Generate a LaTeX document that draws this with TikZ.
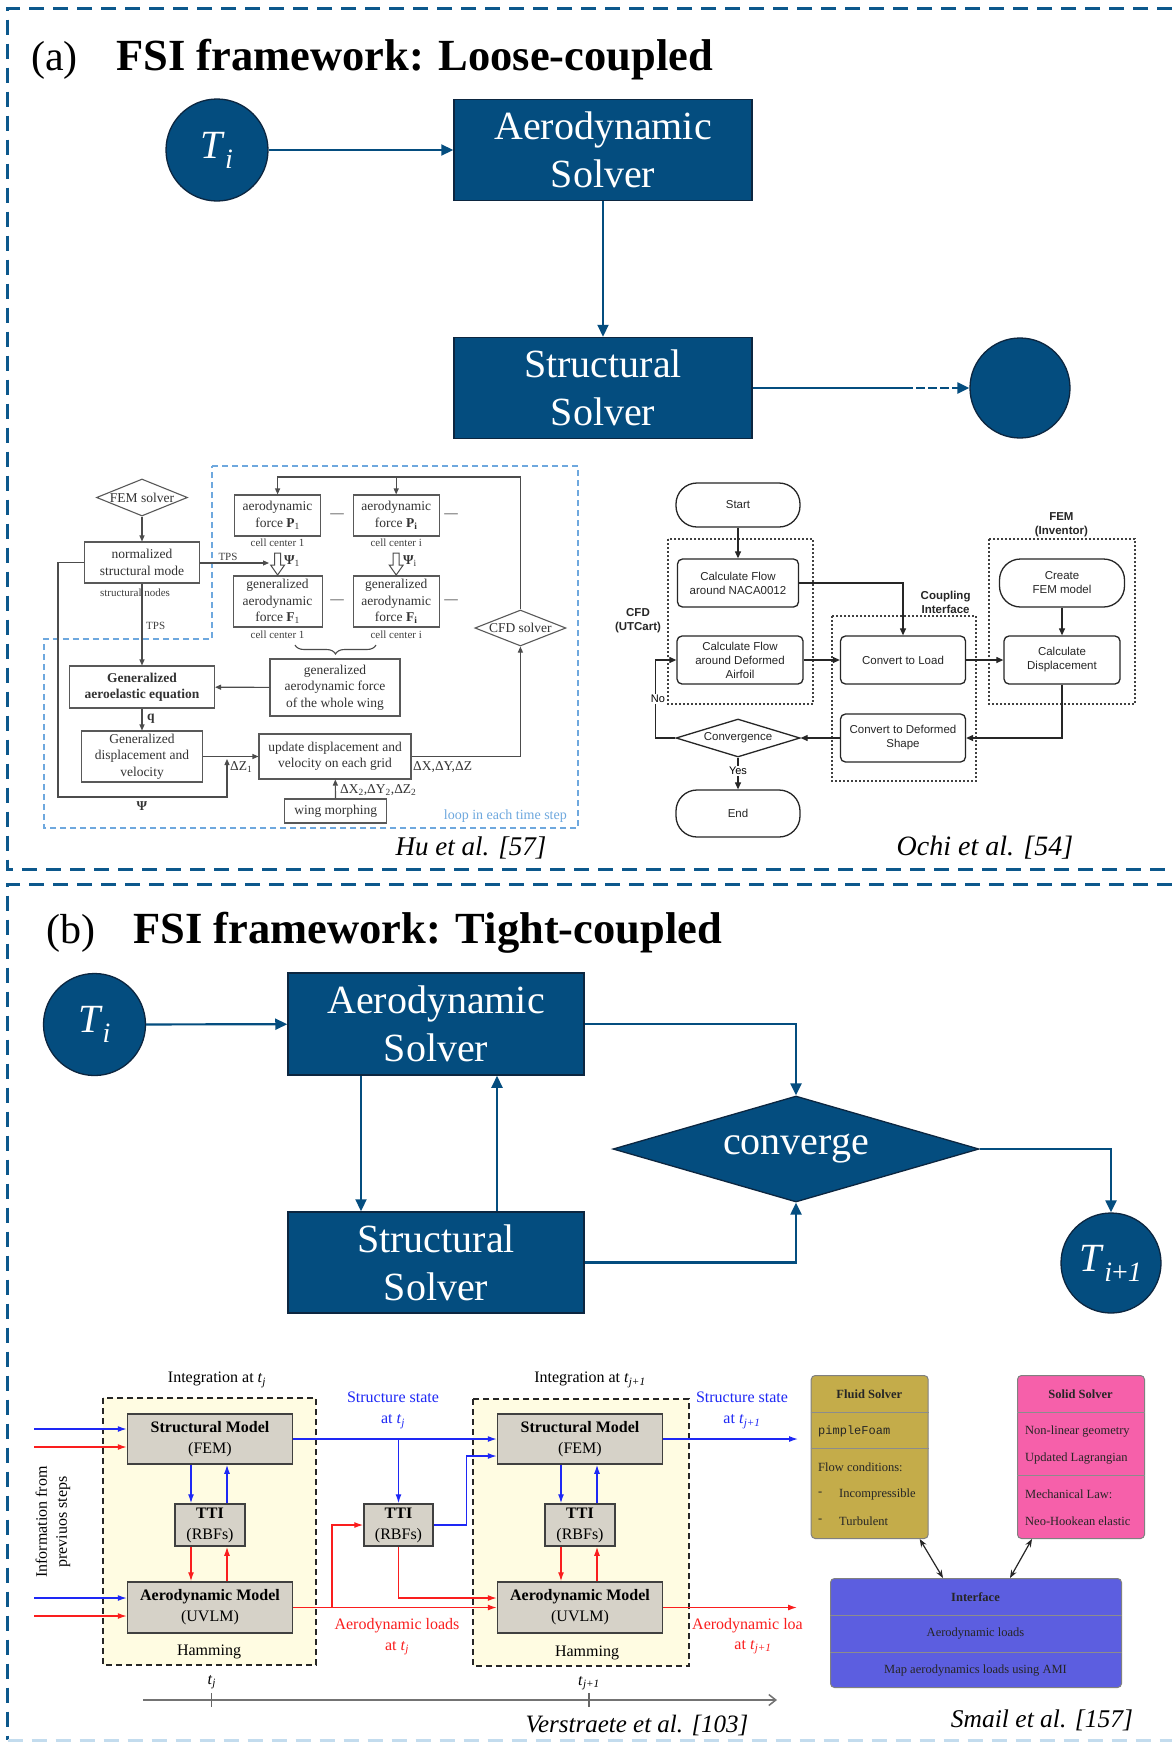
\documentclass[tikz,border=0pt]{standalone}
\usepackage{fontspec}
\setmainfont{Liberation Serif}
\setsansfont{Liberation Sans}
\setmonofont{Liberation Mono}
\usetikzlibrary{arrows.meta,shapes.geometric,decorations.pathreplacing,calc}

\definecolor{navy}{RGB}{4,77,127}
\definecolor{navyedge}{RGB}{12,38,64}
\definecolor{frameblue}{RGB}{12,88,140}
\definecolor{paleframe}{RGB}{195,220,238}
\definecolor{loopblue}{RGB}{110,168,222}
\definecolor{vblue}{RGB}{30,40,245}
\definecolor{vred}{RGB}{250,30,30}
\definecolor{vgrey}{RGB}{214,210,200}
\definecolor{vyellow}{RGB}{255,252,226}
\definecolor{fluidc}{RGB}{196,172,74}
\definecolor{solidc}{RGB}{246,96,170}
\definecolor{ifacec}{RGB}{92,94,224}

\newcommand{\fsz}[2]{\fontsize{#1}{#2}\selectfont}
\newcommand{\isub}[2]{\textit{#1}\textsubscript{\textit{#2}}}

\begin{document}
\begin{tikzpicture}[x=1pt,y=-1pt,
  frameline/.style={draw=frameblue, line width=3pt, dash pattern=on 15pt off 9pt},
  solver/.style={draw=navyedge, line width=1.5pt, fill=navy, text=white, inner sep=0pt,
    font=\fsz{40}{48}, align=center, minimum width=298pt, minimum height=101pt},
  tnode/.style={circle, draw=navyedge, line width=1.3pt, fill=navy, text=white, inner sep=0pt,
    minimum size=102pt, font=\fsz{40}{48}},
  flow/.style={draw=navy, line width=2.2pt, -{Triangle[length=12pt,width=11pt]}},
  flowplain/.style={draw=navy, line width=2.2pt},
  title/.style={anchor=base west, inner sep=0pt},
  % Hu et al. flowchart
  hubox/.style={draw=black!65, line width=1.1pt, fill=white, inner sep=0pt, align=center,
    font=\fsz{13.5}{16.5}, text=black!80},
  hutext/.style={font=\fsz{13.5}{16.5}, text=black!80, inner sep=0pt},
  husmall/.style={font=\fsz{11}{13}, text=black!75, inner sep=0pt},
  hudia/.style={diamond, draw=black!65, line width=1.1pt, fill=white, inner sep=0pt},
  huline/.style={draw=black!70, line width=1.1pt},
  huarr/.style={huline, -{Triangle[length=6pt,width=5pt]}},
  hollow/.style={draw=black!70, line width=1pt, fill=white},
  % Ochi et al. flowchart
  ochibox/.style={draw=black!85, line width=1.3pt, rounded corners=5pt, inner sep=0pt, align=center,
    font=\sffamily\fsz{11.5}{14}, text=black!85},
  ochiterm/.style={ochibox, rounded corners=21pt},
  ochiframe/.style={draw=black!75, line width=1.3pt, dash pattern=on 2pt off 2pt},
  ochiarr/.style={draw=black!85, line width=1.2pt, -{Triangle[length=7pt,width=6pt]}},
  ochilabel/.style={font=\sffamily\bfseries\fsz{11.5}{14}, align=center, text=black!85, inner sep=0pt},
  % Verstraete et al. scheme
  vbox/.style={draw=black!75, line width=1.5pt, fill=vgrey, inner sep=0pt, align=center, font=\fsz{16}{21}},
  vzone/.style={draw=black!85, line width=1.6pt, dash pattern=on 6pt off 4pt, fill=vyellow},
  vtext/.style={font=\fsz{16}{21}, inner sep=0pt, align=center},
  bluearr/.style={draw=vblue, line width=1.3pt, -{Latex[length=9pt,width=6pt]}},
  redarr/.style={draw=vred, line width=1.3pt, -{Latex[length=9pt,width=6pt]}},
  % Smail et al. scheme
  sbox/.style={draw=black!50, line width=1pt, rounded corners=4pt, inner sep=0pt},
  stext/.style={font=\fsz{12.5}{15}, inner sep=0pt, text=black!85},
  ssep/.style={draw=black!45, line width=1pt},
  sarr/.style={draw=black!85, line width=1.2pt, {Stealth[length=8pt,width=6pt]}-{Stealth[length=8pt,width=6pt]}},
  cite/.style={font=\itshape\fsz{27}{30}, inner sep=0pt}
]
\useasboundingbox (0,0) rectangle (1172,1743);
\fill[white] (0,0) rectangle (1172,1743);

% ---------------- panel frames ----------------
\draw[frameline] (1172,8) -- (7.5,8) -- (7.5,869) -- (1172,869);
\draw[frameline] (1172,884) -- (7.5,884) -- (7.5,1740);
\draw[frameline, draw=paleframe] (7.5,1740) -- (1172,1740);

% ================= (a) loose coupling =================
\node[title, font=\fsz{42}{50}] (lbla) at (31,70) {(a)};
\node[title, font=\bfseries\fsz{44.5}{52}] (titlea) at (116,70) {FSI framework: Loose-coupled};

\node[tnode] (tia) at (217,150) {\isub{T}{i}};
\node[solver] (aeroa) at (603,150) {Aerodynamic\\Solver};
\node[solver] (structa) at (603,388) {Structural\\Solver};
\node[tnode, minimum size=100pt] (nexta) at (1020,388) {};
\coordinate (dasha) at (904,388);

\draw[flow] (tia) -- (aeroa);
\draw[flow] (aeroa) -- (structa);
\draw[flowplain] (structa.east) -- (dasha);
\draw[flow, dash pattern=on 9pt off 3pt] (dasha) -- (nexta.west);

% ---------------- Hu et al. ----------------
\draw[draw=loopblue, line width=1.5pt, dash pattern=on 6pt off 4pt]
  (212,466) -- (578,466) -- (578,828) -- (44,828) -- (44,639) -- (212,639) -- cycle;

\node[hudia, minimum width=91pt, minimum height=37pt, label={[hutext]center:FEM solver}] (femd) at (142,497.5) {};
\node[hubox, minimum width=115pt, minimum height=41pt] (nsm) at (142,562.5) {normalized\\structural mode};
\node[husmall, fill=white, inner xsep=1pt] (snodes) at (135,593) {structural nodes};

\node[hubox, minimum width=86pt, minimum height=41pt] (p1) at (277.6,515.5) {aerodynamic\\force \textbf{P}\textsubscript{1}};
\node[hubox, minimum width=86pt, minimum height=41pt] (pi) at (396.2,515.5) {aerodynamic\\force \textbf{P}\textsubscript{\textbf{i}}};
\node[husmall] (cc1a) at (277.6,543) {cell center 1};
\node[husmall] (ccia) at (396.2,543) {cell center i};
\node[hutext] (da1) at (337,516) {—};
\node[hutext] (da2) at (451,516) {—};

\node[hubox, minimum width=89pt, minimum height=51pt] (f1) at (277.6,601.5) {generalized\\aerodynamic\\force \textbf{F}\textsubscript{1}};
\node[hubox, minimum width=86pt, minimum height=51pt] (fi) at (396.2,601.5) {generalized\\aerodynamic\\force \textbf{F}\textsubscript{\textbf{i}}};
\node[husmall] (cc1b) at (277.6,635) {cell center 1};
\node[husmall] (ccib) at (396.2,635) {cell center i};
\node[hutext] (db1) at (337,602) {—};
\node[hutext] (db2) at (451,602) {—};

% hollow transfer arrows
\foreach \hx in {277.6,396.2}{
  \draw[hollow] (\hx-3,553) -- (\hx+3,553) -- (\hx+3,565) -- (\hx+7,565) -- (\hx,575)
    -- (\hx-7,565) -- (\hx-3,565) -- cycle;
}
\node[hutext, anchor=west] (psi1) at (284,561) {\textbf{Ψ}\textsubscript{1}};
\node[hutext, anchor=west] (psii) at (403,561) {\textbf{Ψ}\textsubscript{i}};

\draw[huline, decorate, decoration={brace, mirror, amplitude=9pt}] (295,645) -- (376,645);

\node[hubox, minimum width=130pt, minimum height=57pt] (gwhole) at (335,687.5) {generalized\\aerodynamic force\\of the whole wing};
\node[hubox, minimum width=145pt, minimum height=42pt, font=\bfseries\fsz{13.5}{16.5}] (gae) at (142,687) {Generalized\\aeroelastic equation};
\node[hubox, minimum width=121pt, minimum height=51pt] (gdv) at (142,756.5) {Generalized\\displacement and\\velocity};
\node[hubox, minimum width=152pt, minimum height=45pt] (upd) at (335,756.5) {update displacement and\\velocity on each grid};
\node[hudia, minimum width=91pt, minimum height=36pt, label={[hutext]center:CFD solver}] (cfdh) at (520.4,628) {};
\node[hubox, minimum width=102pt, minimum height=24pt] (wm) at (335.7,811) {wing morphing};

\coordinate (tpsend) at (269,563);
\draw[huarr] (femd) -- (nsm);
\draw[huarr] (nsm.east |- tpsend) -- (tpsend);
\node[husmall, anchor=south] (tps1) at (228,561) {TPS};
\draw[huarr] (nsm) -- (gae);
\node[husmall, anchor=west] (tps2) at (146,626) {TPS};
\draw[huarr] (cfdh.north) -- (cfdh.north |- 0,477) -| (p1.north);
\draw[huarr] (pi.north |- 0,477) -- (pi.north);
\draw[huarr] (gwhole) -- (gae);
\draw[huarr] (gae) -- (gdv);
\node[hutext, anchor=west, font=\bfseries\fsz{13.5}{16.5}] (qlab) at (147,719) {q};
\draw[huarr] (gdv.east) -- (upd.west);
\draw[huarr] (nsm.west) -- ++(-26,0) |- (227,797) -- (227,759);
\node[hutext, font=\bfseries\fsz{13.5}{16.5}] (psilow) at (142,806) {Ψ};
\node[hutext, anchor=west] (dz1) at (230,767) {ΔZ\textsubscript{1}};
\draw[huarr] (upd.east) -| (cfdh.south);
\node[hutext, anchor=west] (dxyz) at (413,767) {ΔX,ΔY,ΔZ};
\draw[huarr] (wm) -- (upd);
\node[hutext, anchor=west] (dxyz2) at (340,790) {ΔX\textsubscript{2},ΔY\textsubscript{2},ΔZ\textsubscript{2}};
\node[font=\fsz{14}{16}, text=loopblue, anchor=east, inner sep=0pt] (looplab) at (567,816) {loop in each time step};
\node[cite] (hucite) at (471,848) {Hu et al. [57]};

% ---------------- Ochi et al. ----------------
\draw[ochiframe] (668,539) rectangle (813,704);
\draw[ochiframe] (832,616) rectangle (976,781);
\draw[ochiframe] (989,539) rectangle (1135,704);
\node[ochilabel] (cfdlab) at (638,621) {CFD\\(UTCart)};
\node[ochilabel] (couplab) at (945.6,602) {Coupling\\Interface};
\node[ochilabel] (femlab) at (1061.4,525) {FEM\\(Inventor)};

\node[ochiterm, minimum width=124pt, minimum height=44pt] (start) at (738,505) {Start};
\node[ochibox, minimum width=121pt, minimum height=48pt] (calc1) at (738,583) {Calculate Flow\\around NACA0012};
\node[ochibox, minimum width=126pt, minimum height=48pt] (calc2) at (740,660) {Calculate Flow\\around Deformed\\Airfoil};
\node[ochibox, minimum width=125pt, minimum height=48pt] (load) at (903,660) {Convert to Load};
\node[ochibox, minimum width=125pt, minimum height=48pt] (cdef) at (903,738) {Convert to Deformed\\Shape};
\node[ochiterm, minimum width=125pt, minimum height=48pt] (cfem) at (1062,583) {Create\\FEM model};
\node[ochibox, minimum width=116pt, minimum height=48pt] (cdisp) at (1062,660) {Calculate\\Displacement};
\node[diamond, draw=black!85, line width=1.3pt, inner sep=0pt, minimum width=124pt, minimum height=38pt,
  label={[font=\sffamily\fsz{11.5}{14}, text=black!85]center:Convergence}] (conv) at (738,738) {};
\node[ochiterm, minimum width=124pt, minimum height=47pt] (endn) at (738,813.5) {End};

\draw[ochiarr] (start) -- (calc1);
\draw[ochiarr] (calc1.east) -| (load.north);
\draw[ochiarr] (calc2) -- (load);
\draw[ochiarr] (cfem) -- (cdisp);
\draw[ochiarr] (load) -- (cdisp);
\draw[ochiarr] (cdisp.south) |- (cdef.east);
\draw[ochiarr] (cdef) -- (conv);
\draw[ochiarr] (conv.west) -- ++(-20,0) |- (calc2.west);
\draw[ochiarr] (conv) -- (endn);
\node[font=\sffamily\fsz{11}{13}, fill=white, inner sep=1pt] (nolab) at (658,699) {No};
\node[font=\sffamily\fsz{11}{13}, fill=white, inner sep=1pt] (yeslab) at (738,771) {Yes};
\node[cite, font=\itshape\fsz{28}{30}] (ochicite) at (985,848) {Ochi et al. [54]};

% ================= (b) tight coupling =================
\node[title, font=\fsz{42}{50}] (lblb) at (46,943) {(b)};
\node[title, font=\bfseries\fsz{44.5}{52}] (titleb) at (133,943) {FSI framework: Tight-coupled};

\node[tnode] (tib) at (94.5,1024.5) {\isub{T}{i}};
\node[solver, minimum width=296pt, minimum height=102pt] (aerob) at (436,1024) {Aerodynamic\\Solver};
\node[solver, minimum width=296pt, minimum height=101pt] (structb) at (436,1262.5) {Structural\\Solver};
\node[diamond, draw=navyedge, line width=1.3pt, fill=navy, inner sep=0pt, minimum width=366pt, minimum height=106pt,
  label={[text=white, font=\fsz{40}{48}]center:converge}] (convb) at (796,1149) {};
\node[tnode, minimum size=100pt] (tnext) at (1111,1263) {\textit{T}\textsubscript{\textit{i}+\textit{1}}};

\draw[flow] (tib) -- (aerob);
\draw[flow] ([xshift=-75pt]aerob.south) -- ([xshift=-75pt]structb.north);
\draw[flow] ([xshift=61pt]structb.north) -- ([xshift=61pt]aerob.south);
\draw[flow] (aerob.east) -| (convb.north);
\draw[flow] (structb.east) -| (convb.south);
\draw[flow] (convb.east) -| (tnext.north);

% ---------------- Verstraete et al. ----------------
\draw[vzone] (103,1398) rectangle (316,1665);
\draw[vzone] (473,1399) rectangle (689,1666);
\node[vtext] (int1) at (217,1380) {Integration at \isub{t}{j}};
\node[vtext] (int2) at (590,1380) {Integration at \isub{t}{j+1}};

\node[vbox, minimum width=165pt, minimum height=50pt] (sm1) at (210,1439) {\textbf{Structural Model}\\(FEM)};
\node[vbox, minimum width=70pt, minimum height=42pt] (tti1) at (210,1525) {\textbf{TTI}\\(RBFs)};
\node[vbox, minimum width=165pt, minimum height=51pt] (am1) at (210,1607.5) {\textbf{Aerodynamic Model}\\(UVLM)};
\node[vtext] (ham1) at (209,1652) {Hamming};

\node[vbox, minimum width=165pt, minimum height=50pt] (sm2) at (580,1439) {\textbf{Structural Model}\\(FEM)};
\node[vbox, minimum width=70pt, minimum height=42pt] (tti2) at (580,1525) {\textbf{TTI}\\(RBFs)};
\node[vbox, minimum width=165pt, minimum height=51pt] (am2) at (580,1607.5) {\textbf{Aerodynamic Model}\\(UVLM)};
\node[vtext] (ham2) at (587,1653) {Hamming};

\node[vbox, minimum width=69pt, minimum height=42pt] (ttim) at (398.5,1525) {\textbf{TTI}\\(RBFs)};

\node[vtext, rotate=90, font=\fsz{16}{20}] (info) at (53,1522) {Information from\\previuos steps};

\coordinate (vin1) at (34,1429);
\coordinate (vin2) at (34,1447);
\coordinate (vin3) at (34,1598);
\coordinate (vin4) at (34,1616);
\draw[bluearr] (vin1) -- (vin1 -| sm1.west);
\draw[redarr] (vin2) -- (vin2 -| sm1.west);
\draw[bluearr] (vin3) -- (vin3 -| am1.west);
\draw[redarr] (vin4) -- (vin4 -| am1.west);

\foreach \b in {1,2}{
  \draw[bluearr] ([xshift=-19pt]sm\b.south) -- ([xshift=-19pt]tti\b.north);
  \draw[bluearr] ([xshift=17pt]tti\b.north) -- ([xshift=17pt]sm\b.south);
  \draw[redarr] ([xshift=-19pt]tti\b.south) -- ([xshift=-19pt]am\b.north);
  \draw[redarr] ([xshift=17pt]am\b.north) -- ([xshift=17pt]tti\b.south);
}

\draw[bluearr] (sm1.east) -- (sm2.west);
\draw[bluearr] (sm1.east -| ttim.north) -- (ttim.north);
\draw[bluearr] (ttim.east) -- ++(33,0) |- ([yshift=-17pt]sm2.west);
\draw[redarr] (am1.east) -- (am2.west);
\coordinate (rjoin) at (332,1607.5);
\draw[redarr] (rjoin) |- (ttim.west);
\draw[redarr] (ttim.south) |- ([yshift=9.5pt]am2.west);

\coordinate (vout1) at (798,1439);
\coordinate (vout2) at (797,1607.5);
\draw[bluearr] (sm2.east) -- (vout1);
\draw[redarr] (am2.east) -- (vout2);

\node[vtext, text=vblue] (ss1) at (393,1410.5) {Structure state\\at \isub{t}{j}};
\node[vtext, text=vred] (al1) at (397,1636.5) {Aerodynamic loads\\at \isub{t}{j}};
\node[vtext, text=vblue] (ss2) at (742,1410.5) {Structure state\\at \isub{t}{j+1}};
\node[vtext, text=vred, anchor=west] (al2) at (692,1626) {Aerodynamic loa};
\node[vtext, text=vred] (al2b) at (753,1647) {at \isub{t}{j+1}};

\coordinate (tl0) at (143,1700);
\coordinate (tl1) at (777,1700);
\draw[draw=black!55, line width=1.5pt, -{Straight Barb[length=7pt,width=11pt]}] (tl0) -- (tl1);
\draw[draw=black!60, line width=1.5pt] (211.7,1693) -- (211.7,1707);
\draw[draw=black!60, line width=1.5pt] (589,1693) -- (589,1707);
\node[vtext] (tj) at (211.7,1682) {\isub{t}{j}};
\node[vtext] (tj1) at (589,1683) {\isub{t}{j+1}};
\node[cite, font=\itshape\fsz{25}{28}] (vcite) at (637,1725) {Verstraete et al. [103]};

% ---------------- Smail et al. ----------------
\node[sbox, fill=fluidc, minimum width=117pt, minimum height=163pt, anchor=north west] (fluid) at (810.7,1375) {};
\draw[ssep] (fluid.west |- 0,1412) -- (fluid.east |- 0,1412);
\draw[ssep] (fluid.west |- 0,1448) -- (fluid.east |- 0,1448);
\node[stext, font=\bfseries\fsz{12.5}{15}] (fluidh) at (869.3,1394) {Fluid Solver};
\node[stext, anchor=west, font=\ttfamily\fsz{12}{15}] (pimple) at (818,1431) {pimpleFoam};
\node[stext, anchor=west] (flowc) at (818,1467) {Flow conditions:};
\node[stext, anchor=west] (dash1) at (818,1494) {-};
\node[stext, anchor=west] (incomp) at (839,1494) {Incompressible};
\node[stext, anchor=west] (dash2) at (818,1521) {-};
\node[stext, anchor=west] (turb) at (839,1521) {Turbulent};

\node[sbox, fill=solidc, minimum width=127pt, minimum height=163pt, anchor=north west] (solid) at (1017,1375) {};
\draw[ssep] (solid.west |- 0,1412) -- (solid.east |- 0,1412);
\draw[ssep] (solid.west |- 0,1475) -- (solid.east |- 0,1475);
\node[stext, font=\bfseries\fsz{12.5}{15}] (solidh) at (1080.5,1394) {Solid Solver};
\node[stext, anchor=west] (nlg) at (1025,1431) {Non-linear geometry};
\node[stext, anchor=west] (ulag) at (1025,1458) {Updated Lagrangian};
\node[stext, anchor=west] (mlaw) at (1025,1494) {Mechanical Law:};
\node[stext, anchor=west] (neo) at (1025,1521) {Neo-Hookean elastic};

\node[sbox, fill=ifacec, minimum width=291pt, minimum height=109pt, anchor=north west] (iface) at (830,1578) {};
\draw[ssep] (iface.west |- 0,1615) -- (iface.east |- 0,1615);
\draw[ssep] (iface.west |- 0,1652) -- (iface.east |- 0,1652);
\node[stext, font=\bfseries\fsz{12.5}{15}] (ifaceh) at (975.5,1597) {Interface};
\node[stext] (aload) at (975.5,1633) {Aerodynamic loads};
\node[stext] (ami) at (975.5,1670) {Map aerodynamics loads using AMI};

\draw[sarr] ([xshift=-9pt]fluid.south east) -- ([xshift=-33pt]iface.north);
\draw[sarr] ([xshift=15pt]solid.south west) -- ([xshift=34pt]iface.north);
\node[cite, font=\itshape\fsz{25.5}{28}] (scite) at (1042,1720) {Smail et al. [157]};

\end{tikzpicture}
\end{document}
